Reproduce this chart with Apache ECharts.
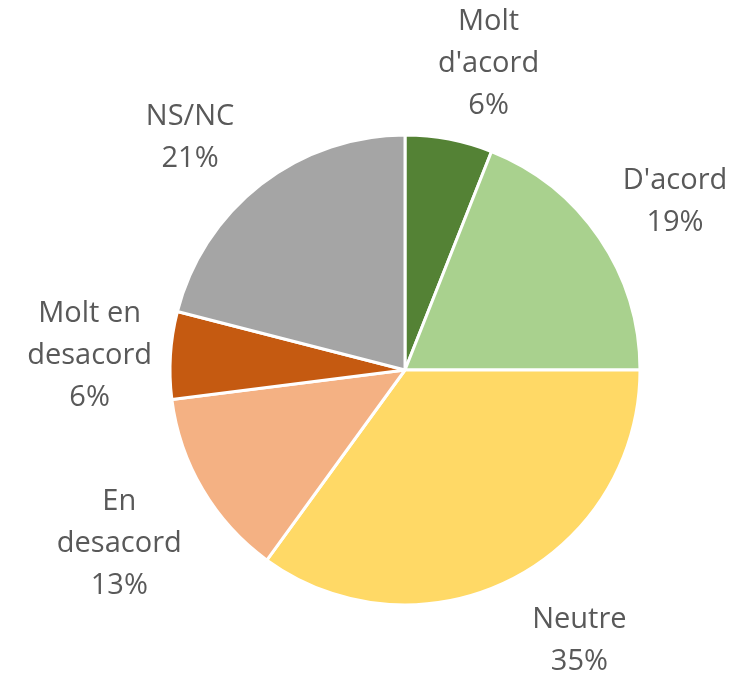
<!DOCTYPE html>
<html>
<head>
<meta charset="utf-8">
<script src="https://cdn.jsdelivr.net/npm/echarts@6/dist/echarts.min.js"></script>
<style>
  html, body { margin: 0; padding: 0; background: #fff; }
  #chart { width: 741px; height: 676px; }
</style>
</head>
<body>
<div id="chart"></div>
<script>
// categories and shares (%), clockwise from 12 o'clock
const categories = ['Molt\nd\'acord', 'D\'acord', 'Neutre', 'En\ndesacord', 'Molt en\ndesacord', 'NS/NC'];
const values = [6, 19, 35, 13, 6, 21];
const colors = ['#548235', '#A9D18E', '#FFD966', '#F4B183', '#C55A11', '#A5A5A5'];
// small label nudges [dx, dy] so the labels sit like Excel's "outside end"
const labelNudge = [[24, 6], [7, 10], [30, -13], [-12, 12], [2, 6], [-20, 19]];

let pieData = categories.map(function (name, i) {
  return { name: name, value: values[i], itemStyle: { color: colors[i] } };
});
let labelData = categories.map(function (name, i) {
  return { name: name, value: values[i] };
});

let myChart = echarts.init(document.getElementById('chart'));
let center = [405, 370];
let option = {
  animation: false,
  series: [
    {
      // the pie itself
      type: 'pie',
      center: center,
      radius: [0, 235],
      startAngle: 90,
      clockwise: true,
      silent: true,
      data: pieData,
      itemStyle: { borderColor: '#fff', borderWidth: 3 },
      label: { show: false },
      labelLine: { show: false }
    },
    {
      // invisible ring, only used to place the labels outside the pie
      type: 'pie',
      center: center,
      radius: [235, 395],
      startAngle: 90,
      clockwise: true,
      silent: true,
      data: labelData,
      itemStyle: { color: 'rgba(0,0,0,0)', borderWidth: 0 },
      label: {
        show: true,
        position: 'inside',
        formatter: '{b}\n{d}%',
        color: '#595959',
        fontFamily: 'Open Sans',
        fontSize: 29,
        lineHeight: 42,
        align: 'center'
      },
      labelLine: { show: false },
      labelLayout: function (params) {
        let n = labelNudge[params.dataIndex];
        return { dx: n[0], dy: n[1] };
      }
    }
  ]
};
myChart.setOption(option);
</script>
</body>
</html>
